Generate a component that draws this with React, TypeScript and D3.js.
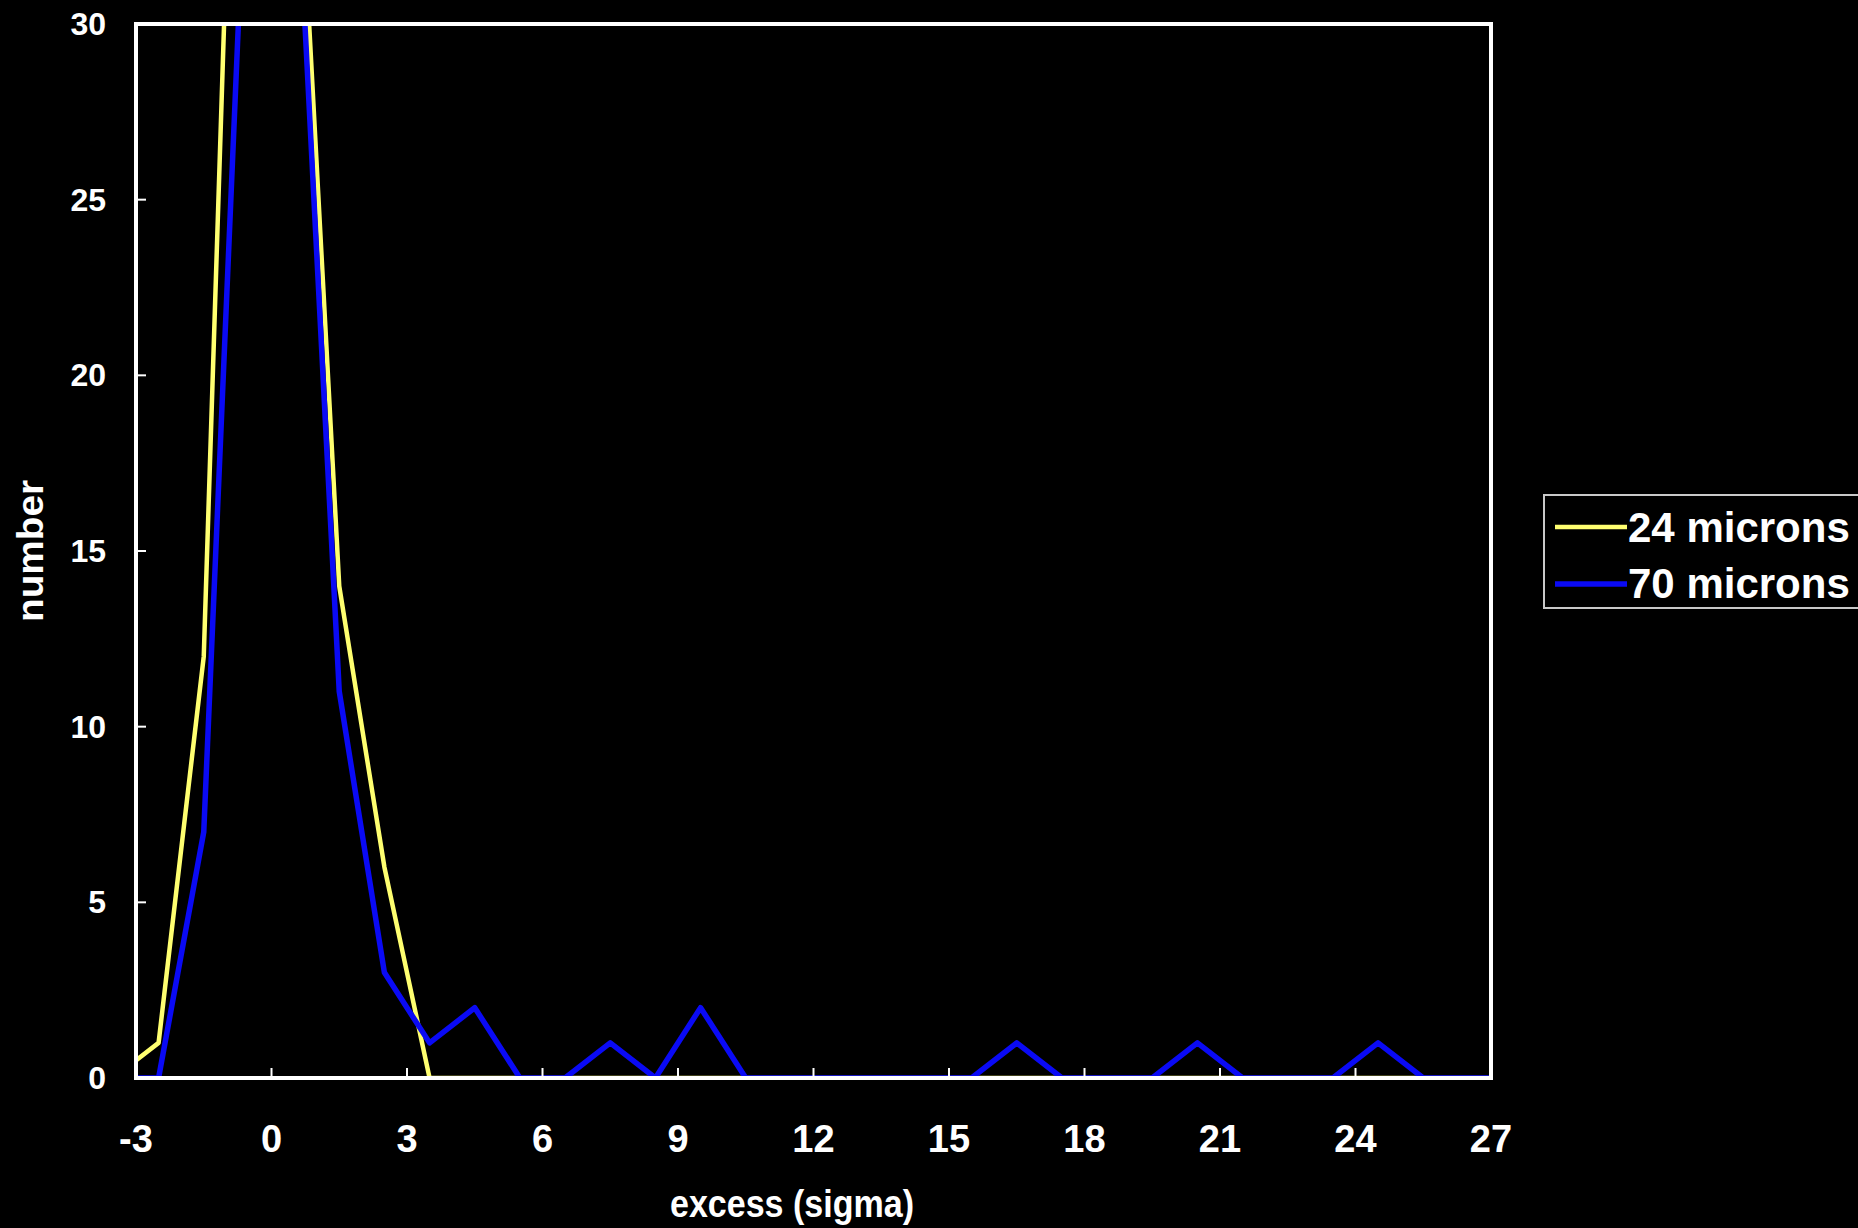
import React from "react";
import * as d3 from "d3";

// bin centres (sigma)
const bins = [
  -3.5, -2.5, -1.5, -0.5, 0.5, 1.5, 2.5, 3.5, 4.5, 5.5, 6.5, 7.5, 8.5, 9.5, 10.5, 11.5,
  12.5, 13.5, 14.5, 15.5, 16.5, 17.5, 18.5, 19.5, 20.5, 21.5, 22.5, 23.5, 24.5, 25.5,
  26.5, 27.5,
];

const microns24 = [
  0, 1, 12, 52, 38, 14, 6, 0, 0, 0, 0, 0, 0, 0, 0, 0, 0, 0, 0, 0, 0, 0, 0, 0, 0, 0, 0,
  0, 0, 0, 0, 0,
];

const microns70 = [
  0, 0, 7, 37, 36, 11, 3, 1, 2, 0, 0, 1, 0, 2, 0, 0, 0, 0, 0, 0, 1, 0, 0, 0, 1, 0, 0,
  0, 1, 0, 0, 0,
];

const xTicks = [-3, 0, 3, 6, 9, 12, 15, 18, 21, 24, 27];
const yTicks = [0, 5, 10, 15, 20, 25, 30];

const seriesNames = ["24 microns", "70 microns"];
const seriesColors = ["#ffff70", "#0a0af5"];

const W = 1858;
const H = 1228;
const plot = { left: 136, right: 1491, top: 24, bottom: 1078 };
const font = "'Liberation Sans', Arial, sans-serif";

export default function App() {
  const x = d3.scaleLinear().domain([-3, 27]).range([plot.left, plot.right]);
  const y = d3.scaleLinear().domain([0, 30]).range([plot.bottom, plot.top]);

  const line = d3
    .line<number>()
    .x((_, i) => x(bins[i]))
    .y((d) => y(d));

  const series = [microns24, microns70];

  return (
    <svg
      width={W}
      height={H}
      style={{ position: "absolute", left: 0, top: 0, display: "block" }}
    >
      <rect x={0} y={0} width={W} height={H} fill="#000" />
      <defs>
        <clipPath id="plotClip">
          <rect
            x={plot.left}
            y={plot.top}
            width={plot.right - plot.left}
            height={plot.bottom - plot.top}
          />
        </clipPath>
      </defs>

      {/* data lines */}
      <g clipPath="url(#plotClip)">
        {series.map((s, i) => (
          <path
            key={i}
            d={line(s) || ""}
            fill="none"
            stroke={seriesColors[i]}
            strokeWidth={i === 0 ? 4.5 : 5.5}
            strokeLinejoin="round"
          />
        ))}
      </g>

      {/* frame */}
      <rect
        x={plot.left}
        y={plot.top}
        width={plot.right - plot.left}
        height={plot.bottom - plot.top}
        fill="none"
        stroke="#fff"
        strokeWidth={4}
      />

      {/* x ticks */}
      {xTicks.map((t) => (
        <g key={"x" + t}>
          <line
            x1={x(t)}
            x2={x(t)}
            y1={plot.bottom}
            y2={plot.bottom - 10}
            stroke="#fff"
            strokeWidth={2}
          />
          <text
            x={x(t)}
            y={1152}
            fill="#fff"
            fontFamily={font}
            fontWeight="bold"
            fontSize={38}
            textAnchor="middle"
          >
            {t}
          </text>
        </g>
      ))}

      {/* y ticks */}
      {yTicks.map((t) => (
        <g key={"y" + t}>
          <line
            x1={plot.left}
            x2={plot.left + 10}
            y1={y(t)}
            y2={y(t)}
            stroke="#fff"
            strokeWidth={2}
          />
          <text
            x={106}
            y={y(t) + 11}
            fill="#fff"
            fontFamily={font}
            fontWeight="bold"
            fontSize={32}
            textAnchor="end"
          >
            {t}
          </text>
        </g>
      ))}

      {/* axis titles */}
      <text
        x={792}
        y={1217}
        fill="#fff"
        fontFamily={font}
        fontWeight="bold"
        fontSize={38}
        textAnchor="middle"
        textLength={244}
        lengthAdjust="spacingAndGlyphs"
      >
        excess (sigma)
      </text>
      <text
        transform="translate(43,551) rotate(-90)"
        fill="#fff"
        fontFamily={font}
        fontWeight="bold"
        fontSize={36}
        textAnchor="middle"
        textLength={142}
        lengthAdjust="spacingAndGlyphs"
      >
        number
      </text>

      {/* legend */}
      <rect
        x={1544}
        y={495}
        width={330}
        height={113}
        fill="#000"
        stroke="#c8c8c8"
        strokeWidth={2}
      />
      {seriesNames.map((name, i) => (
        <g key={name}>
          <line
            x1={1555}
            x2={1627}
            y1={527 + i * 57}
            y2={527 + i * 57}
            stroke={seriesColors[i]}
            strokeWidth={i === 0 ? 4.5 : 5.5}
          />
          <text
            x={1628}
            y={542 + i * 56}
            fill="#fff"
            fontFamily={font}
            fontWeight="bold"
            fontSize={42}
          >
            {name}
          </text>
        </g>
      ))}
    </svg>
  );
}
